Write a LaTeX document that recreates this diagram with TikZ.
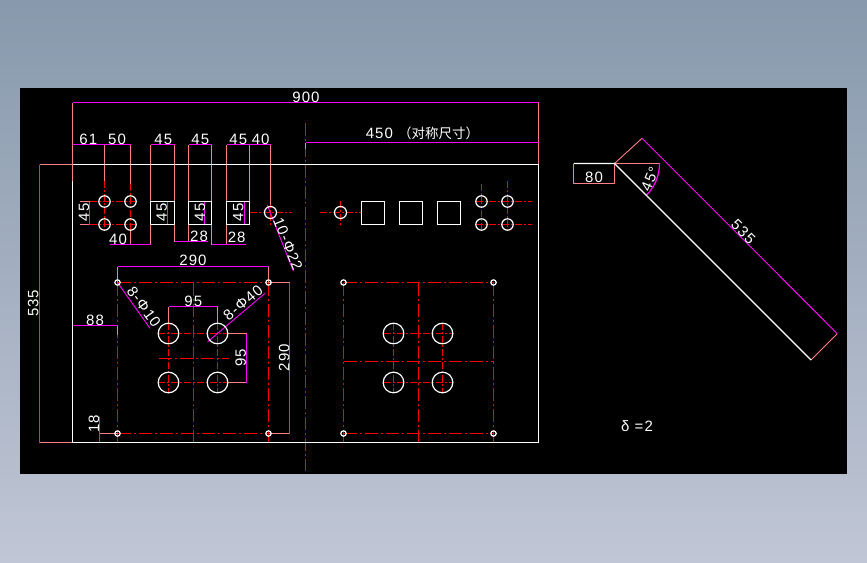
\documentclass[tikz,border=0pt]{standalone}
\usepackage{fontspec}
\setmainfont{Liberation Sans}[LetterSpace=7]
\newfontfamily\cjk{Noto Sans CJK SC}
\definecolor{dimm}{HTML}{FF00FF}
\definecolor{ext}{HTML}{FF8080}
\definecolor{cen}{HTML}{FF0000}
\tikzset{
  dimline/.style={draw=dimm,line width=1.2pt},
  leaderline/.style={draw=dimm,line width=0.9pt},
  extline/.style={draw=ext,line width=1.2pt},
  outline/.style={draw=white,line width=1.2pt},
  cline/.style={draw=cen,line width=1.2pt,dash pattern=on 13pt off 3pt on 2pt off 3pt},
  cshort/.style={draw=cen,line width=1.2pt,dash pattern=on 7pt off 2pt on 2pt off 2pt},
  lbl/.style={text=white,inner sep=0pt,font=\fontsize{15}{15}\selectfont},
}
\begin{document}
\begin{tikzpicture}[x=1pt,y=-1pt]
\useasboundingbox (0,0) rectangle (867,562);
\shade[top color={rgb,255:red,136;green,153;blue,173},bottom color={rgb,255:red,192;green,198;blue,213}] (0,0) rectangle (867,562);
\fill[black] (20,88) rectangle (847,474);
% centre lines
\draw[cline] (305.5,123) -- (305.5,471);
\foreach \x in {117.5,268.5,343.5,493.5} \draw[cline] (\x,282.5) -- (\x,442);
\foreach \x in {193.5,418.5} \draw[cline] (\x,282.5) -- (\x,442);
\foreach \y in {282.5,433.5} {\draw[cline] (117.5,\y) -- (268.5,\y); \draw[cline] (343.5,\y) -- (493.5,\y);}
\draw[cline] (343.5,361.5) -- (493.5,361.5);
\draw[cline] (158.5,358.5) -- (228.5,358.5);
\foreach \y in {333.5,382.5} {\draw[cshort] (158,\y) -- (228,\y); \draw[cshort] (383.5,\y) -- (453.5,\y);}
\foreach \x in {168.5,217.5,393.5,442.5} \draw[cshort] (\x,323) -- (\x,393);
\foreach \y in {201.5,224.5} {\draw[cshort] (90,\y) -- (136,\y); \draw[cshort] (475.5,\y) -- (531.5,\y);}
\draw[cshort] (104.5,181) -- (104.5,230);
\draw[cshort] (130.5,184) -- (130.5,230);
\draw[cshort] (481.5,184) -- (481.5,230);
\draw[cshort] (507.5,181) -- (507.5,230);
\draw[cshort] (250,212.5) -- (291.5,212.5);
\draw[cshort] (319.5,212.5) -- (361,212.5);
\draw[cshort] (270.5,201) -- (270.5,225);
\draw[cshort] (340.5,201) -- (340.5,225);
% extension lines
\draw[extline] (72.5,102.5) -- (72.5,181);
\draw[extline] (538.5,102.5) -- (538.5,164.5);
\draw[extline] (39.5,164.5) -- (72.5,164.5);
\draw[extline] (39.5,442.5) -- (111,442.5);
\draw[extline] (104.5,144.5) -- (104.5,181);
\draw[extline] (130.5,144.5) -- (130.5,184);
\draw[extline] (130.5,230) -- (130.5,244.5);
\draw[extline] (150.5,144.5) -- (150.5,244.5);
\draw[extline] (174.5,144.5) -- (174.5,241.5);
\draw[extline] (188.5,144.5) -- (188.5,241.5);
\draw[extline] (211.5,144.5) -- (211.5,244.5);
\draw[extline] (226.5,144.5) -- (226.5,244.5);
\draw[extline] (249.5,144.5) -- (249.5,201.5);
\draw[extline] (270.5,144.5) -- (270.5,205);
\draw[extline] (305.5,142.5) -- (305.5,149);
\draw[extline] (80,201.5) -- (89.5,201.5);
\draw[extline] (80,224.5) -- (89.5,224.5);
\draw[extline] (117.5,266.5) -- (117.5,282.5);
\draw[extline] (268.5,266.5) -- (268.5,282.5);
\draw[extline] (268.5,282.5) -- (289.5,282.5);
\draw[extline] (268.5,433.5) -- (289.5,433.5);
\draw[extline] (168.5,306.5) -- (168.5,323);
\draw[extline] (217.5,306.5) -- (217.5,323);
\draw[extline] (227.6,333.5) -- (246.5,333.5);
\draw[extline] (227.6,382.5) -- (246.5,382.5);
\draw[extline] (72.5,325.5) -- (72.5,335);
\draw[extline] (117.5,325.5) -- (117.5,335);
\draw[extline] (99.5,433.5) -- (117.5,433.5);
% dimension lines
\draw[dimline] (72.5,102.5) -- (538.5,102.5);
\draw[dimline] (305.5,142.5) -- (538.5,142.5);
\draw[dimline] (39.5,164.5) -- (39.5,442.5);
\draw[dimline] (72.5,144.5) -- (130.5,144.5);
\draw[dimline] (150.5,144.5) -- (174.5,144.5);
\draw[dimline] (188.5,144.5) -- (211.5,144.5);
\draw[dimline] (226.5,144.5) -- (270.5,144.5);
\draw[dimline] (89.5,201.5) -- (89.5,224.5);
\draw[dimline] (167.5,201.5) -- (167.5,224.5);
\draw[dimline] (204.5,201.5) -- (204.5,224.5);
\draw[dimline] (244.5,201.5) -- (244.5,224.5);
\draw[dimline] (110,244.5) -- (150.5,244.5);
\draw[dimline] (174.5,241.5) -- (208,241.5);
\draw[dimline] (211.5,244.5) -- (246,244.5);
\draw[dimline] (117.5,266.5) -- (268.5,266.5);
\draw[dimline] (289.5,282.5) -- (289.5,433.5);
\draw[dimline] (168.5,306.5) -- (217.5,306.5);
\draw[dimline] (246.5,333.5) -- (246.5,382.5);
\draw[dimline] (72.5,325.5) -- (117.5,325.5);
\draw[dimline] (99.5,416.5) -- (99.5,442.5);
\draw[leaderline] (117.5,282.5) -- (150,328.3);
\draw[leaderline] (207.7,341.7) -- (265,293.3);
\draw[leaderline] (267.3,205) -- (293.3,271);
% outline
\draw[outline] (72.5,181) -- (72.5,442.5) -- (538.5,442.5) -- (538.5,164.5) -- (72.5,164.5);
\draw[outline] (150.5,201.5) rectangle (174.5,224.5);
\draw[outline] (188.5,201.5) rectangle (211.5,224.5);
\draw[outline] (226.5,201.5) rectangle (249.5,224.5);
\draw[outline] (361.5,201.5) rectangle (384.5,224.5);
\draw[outline] (399.5,201.5) rectangle (422.5,224.5);
\draw[outline] (437.5,201.5) rectangle (460.5,224.5);
\foreach \x in {104.5,130.5,481.5,507.5} \foreach \y in {201.5,224.5}
  \draw[outline] (\x,\y) circle[radius=5.7];
\foreach \x in {270.5,340.5} \draw[outline] (\x,212.5) circle[radius=6];
\foreach \x in {117.5,268.5,343.5,493.5} \foreach \y in {282.5,433.5}
  \draw[outline] (\x,\y) circle[radius=2.7];
\foreach \x in {168.5,217.5,393.5,442.5} \foreach \y in {333.5,382.5}
  \draw[outline] (\x,\y) circle[radius=10.3];
% bent part
\draw[extline] (573.5,163.5) -- (573.5,183.5);
\draw[extline] (614.5,163.5) -- (614.5,183.5);
\draw[extline] (573.5,183.5) -- (614.5,183.5);
\draw[extline,line width=0.9pt] (614.5,163.5) -- (642,138.3);
\draw[extline,line width=0.9pt] (811,360) -- (837.3,333.7);
\draw[extline] (614.5,163.5) -- (659.5,163.5);
\draw[leaderline] (642,138.3) -- (837.3,333.7);
\draw[dimline] (659.5,163.5) arc[start angle=0,end angle=45,radius=45];
\draw[outline,line width=1.4pt] (573.5,163.5) -- (614.5,163.5) -- (811,360);
% labels
\node[lbl] (t900) at (306,97) {900};
\node[lbl] (t61) at (88.3,139) {61};
\node[lbl] (t50) at (117,139) {50};
\node[lbl] (t45a) at (163.3,139) {45};
\node[lbl] (t45b) at (200.3,139) {45};
\node[lbl] (t45c) at (238.3,139) {45};
\node[lbl] (t40a) at (260.7,139) {40};
\node[lbl] (t450) at (422.5,133) {450 {\cjk\fontsize{13.5}{13.5}\selectfont （对称尺寸）}};
\node[lbl,rotate=90] (t45d) at (84,212.3) {45};
\node[lbl,rotate=90] (t45e) at (161.7,212.3) {45};
\node[lbl,rotate=90] (t45f) at (200,212.3) {45};
\node[lbl,rotate=90] (t45g) at (238.3,212.3) {45};
\node[lbl] (t40b) at (118,239.5) {40};
\node[lbl] (t28a) at (199,236) {28};
\node[lbl] (t28b) at (236.7,237.7) {28};
\node[lbl] (t290a) at (193,260) {290};
\node[lbl,rotate=90] (t290b) at (284.3,357.7) {290};
\node[lbl,rotate=90] (t535a) at (33.3,303.3) {535};
\node[lbl] (t95a) at (193.3,301) {95};
\node[lbl,rotate=90] (t95b) at (240.7,357.7) {95};
\node[lbl] (t88) at (95,320) {88};
\node[lbl,rotate=90] (t18) at (94,424) {18};
\node[lbl,rotate=-54] (t810) at (144,307) {8-Φ10};
\node[lbl,rotate=40] (t840) at (243,303) {8-Φ40};
\node[lbl,rotate=-68] (t1022) at (288,244) {10-Φ22};
\node[lbl] (t80) at (594,177.7) {80};
\node[lbl,rotate=67] (t45deg) at (650,179) {45°};
\node[lbl,rotate=-45] (t535b) at (743.3,231.7) {535};
\node[lbl] (tdelta) at (637,426) {δ =2};
\end{tikzpicture}
\end{document}
